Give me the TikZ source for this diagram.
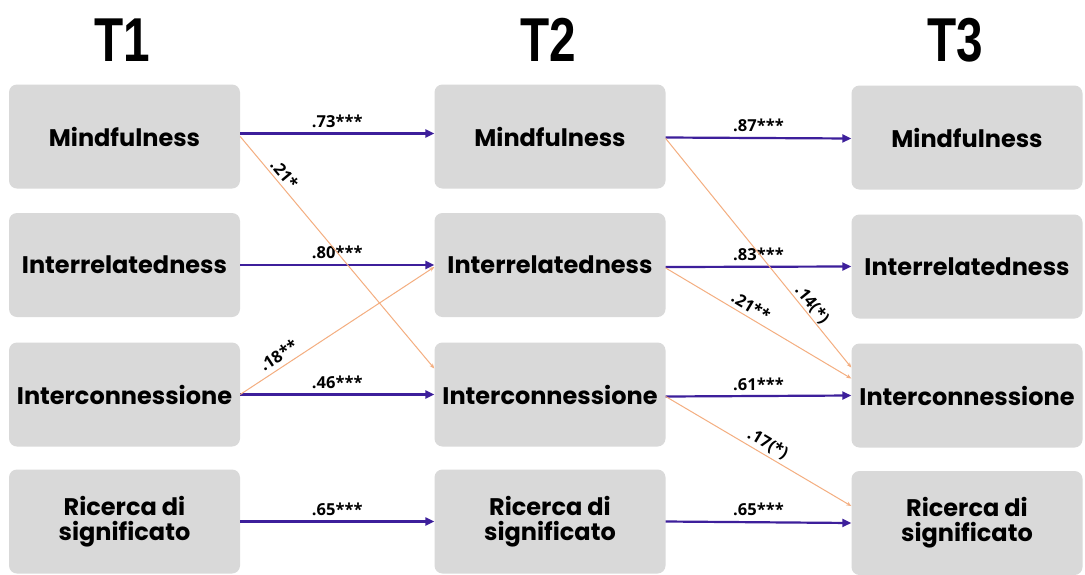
\documentclass[tikz,border=0pt]{standalone}
\usepackage{fontspec}
\usetikzlibrary{arrows.meta}
\newfontfamily\boxfont{Poppins}
\newfontfamily\titlefont[FakeStretch=0.77]{Liberation Sans}
\newfontfamily\labfont{Open Sans}
\definecolor{boxgray}{HTML}{D9D9D9}
\definecolor{pathpurple}{HTML}{3D1F9B}
\definecolor{pathorange}{HTML}{F4AE80}
\tikzset{
  var/.style={fill=boxgray, rounded corners=8pt, minimum width=231pt, minimum height=104pt,
    inner sep=0pt, align=center, font=\boxfont\bfseries\fontsize{24}{27}\selectfont},
  ttl/.style={font=\titlefont\bfseries\fontsize{62}{62}\selectfont, inner sep=0pt},
  main/.style={draw=pathpurple, line width=2.2pt, -{Triangle[length=9pt,width=8pt]}},
  cross/.style={draw=pathorange, line width=1pt, -{Stealth[length=5pt,width=4pt]}},
  coef/.style={font=\labfont\bfseries\fontsize{16.5}{16.5}\selectfont, inner sep=1pt}
}
\begin{document}
\begin{tikzpicture}[x=1pt,y=-1pt]
\useasboundingbox (0,0) rectangle (1085,574);
\fill[white] (0,0) rectangle (1085,574);
% titles
\node[ttl] (t1) at (122,40) {T1};
\node[ttl] (t2) at (548,40) {T2};
\node[ttl] (t3) at (955,40) {T3};
% T1
\node[var] (a1) at (124.5,136.5) {Mindfulness};
\node[var] (a2) at (124.5,265) {Interrelatedness};
\node[var] (a3) at (124.5,394.5) {Interconnessione};
\node[var] (a4) at (124.5,521.5) {Ricerca di\\[-2pt]significato};
% T2
\node[var] (b1) at (550,136.5) {Mindfulness};
\node[var] (b2) at (550,265) {Interrelatedness};
\node[var] (b3) at (550,394.5) {Interconnessione};
\node[var] (b4) at (550,521.5) {Ricerca di\\[-2pt]significato};
% T3
\node[var] (c1) at (967,137.5) {Mindfulness};
\node[var] (c2) at (967,266.5) {Interrelatedness};
\node[var] (c3) at (967,395.5) {Interconnessione};
\node[var] (c4) at (967,523) {Ricerca di\\[-2pt]significato};
% stability paths T1->T2
\draw[main] ([yshift=3pt]a1.east) -- node[coef, above=4pt] {.73***} ([yshift=3pt]b1.west);
\draw[main] (a2.east) -- node[coef, above=4pt] {.80***} (b2.west);
\draw[main] (a3.east) -- node[coef, above=4pt] {.46***} (b3.west);
\draw[main] (a4.east) -- node[coef, above=4pt] {.65***} (b4.west);
% stability paths T2->T3
\draw[main] ([yshift=-1pt]b1.east) -- node[coef, above=4pt] {.87***} ([yshift=-1pt]c1.west);
\draw[main] ([yshift=-2pt]b2.east) -- node[coef, above=4pt] {.83***} (c2.west);
\draw[main] ([yshift=-2pt]b3.east) -- node[coef, above=3pt] {.61***} (c3.west);
\draw[main] (b4.east) -- node[coef, above=4pt] {.65***} (c4.west);
% cross-lagged paths
\draw[cross] (a1.east) -- node[coef, pos=0.19, sloped, above=2pt] {.21*} ([yshift=26pt]b3.west);
\draw[cross] (a3.east) -- node[coef, pos=0.23, sloped, above=4pt] {.18**} ([yshift=-2pt]b2.west);
\draw[cross] ([yshift=-2pt]b1.east) -- node[coef, pos=0.75, sloped, above=0pt] {.14(*)} ([yshift=28pt]c3.west);
\draw[cross] ([yshift=-3pt]b2.east) -- node[coef, pos=0.43, sloped, above=3pt] {.21**} ([yshift=17pt]c3.west);
\draw[cross] ([yshift=-2pt]b3.east) -- node[coef, pos=0.52, sloped, above=2pt] {.17(*)} ([yshift=17pt]c4.west);
\end{tikzpicture}
\end{document}
